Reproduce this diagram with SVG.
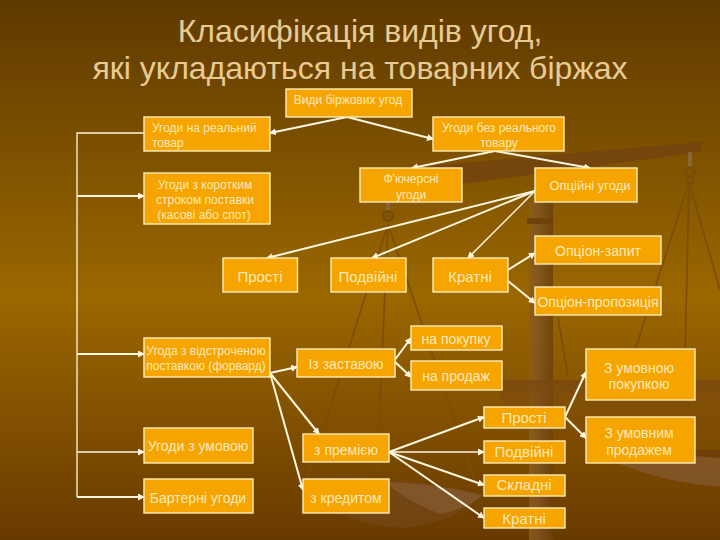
<svg xmlns="http://www.w3.org/2000/svg" width="720" height="540" viewBox="0 0 720 540">
<style>
.n{fill:#f5a400;stroke:#ffedb8;stroke-width:1.4}
.t{font-family:"Liberation Sans",Arial,sans-serif;fill:#ffe9bb;text-anchor:middle;font-size:12px}
.s{text-anchor:start}
.o{font-size:13px}
.m{font-size:14px}
.b{font-size:15px}
.h{font-family:"Liberation Sans",Arial,sans-serif;fill:#e8cb94;text-anchor:middle;font-size:32px}
.c{stroke:#fff6e0;stroke-width:2;fill:none;marker-end:url(#a)}
.d{stroke:#fff6e0;stroke-width:1.5;fill:none;marker-end:url(#a)}
.c1{stroke:#fff6e0;stroke-width:1.3;fill:none}
.ch{stroke:#7a4d08;stroke-width:1.6;fill:none}
</style>
<defs>
<linearGradient id="bg" x1="0" y1="0" x2="0" y2="1">
<stop offset="0" stop-color="#5f3a00"/><stop offset="0.55" stop-color="#9a6700"/><stop offset="1" stop-color="#693a00"/>
</linearGradient>
<linearGradient id="p" x1="0" y1="0" x2="1" y2="0">
<stop offset="0" stop-color="#8c5d1e"/><stop offset="0.45" stop-color="#7e5320"/><stop offset="1" stop-color="#6a4008"/>
</linearGradient>
<linearGradient id="rp" x1="0" y1="0" x2="0" y2="1">
<stop offset="0" stop-color="#7a4810" stop-opacity=".85"/><stop offset="0.3" stop-color="#7a4810" stop-opacity=".35"/><stop offset="1" stop-color="#7a4810" stop-opacity="0"/>
</linearGradient>
<marker id="a" markerWidth="7" markerHeight="7" refX="6" refY="3.5" orient="auto" markerUnits="userSpaceOnUse"><path d="M0 0L7 3.5L0 7z" fill="#fff6e0"/></marker>
</defs>
<rect width="720" height="540" fill="url(#bg)"/>
<g id="scales">
<path d="M380 170L702 142L700 152L380 195z" fill="#74450c"/>
<rect x="529" y="202" width="24" height="338" fill="url(#p)" opacity=".85"/>
<rect x="527" y="218" width="26" height="6" fill="#6e4208"/>
<path d="M688 152H692V166H688z" fill="#8a6636"/>
<circle cx="690" cy="172" r="4.5" fill="none" stroke="#7a4c0a" stroke-width="2"/>
<circle cx="690" cy="180" r="3.5" fill="none" stroke="#7a4c0a" stroke-width="2"/>
<path d="M386 202H390V211H386z" fill="#8a6636"/>
<circle cx="388" cy="216" r="5" fill="#7f540a" stroke="#754808" stroke-width="2"/>
<path class="ch" d="M388 224L305 487M388 224L377 470M388 224L475 480"/>
<path class="ch" d="M689 182L632 360M689 182L685 360M689 182L720 290M558 317L568 377"/>
<path d="M500 380H720V455Q640 470 586 465Q540 440 500 400z" fill="url(#rp)"/>
<path d="M695 450H720V458H695z" fill="#6e3f04"/>
<path d="M610 460Q670 452 720 458V487Q660 482 610 460z" fill="#82582c" opacity=".8"/>
<path d="M300 478Q390 472 482 495Q460 520 405 528Q330 525 300 478z" fill="#74481a" opacity=".7"/>
<path d="M385 482Q440 484 482 495Q470 508 440 514Q405 500 385 482z" fill="#835a2e" opacity=".8"/>
</g>
<text class="h" x="360" y="42">Класифікація видів угод,</text>
<text class="h" x="360" y="79">які укладаються на товарних біржах</text>
<g id="connectors">
<path class="c1" d="M144 133H77V497"/>
<path class="c" d="M77 196H144"/><path class="c" d="M77 354H144"/><path class="d" d="M77 452H144"/><path class="c" d="M77 497H144"/>
<path class="c" d="M347 117L270 133"/><path class="c" d="M347 117L433 139"/>
<path class="c" d="M495 151L412 168"/><path class="c" d="M495 151L590 168"/>
<path class="c" d="M535 191L267 258"/><path class="c" d="M535 191L372 258"/><path class="d" d="M535 191L468 258"/>
<path class="c" d="M508 270L535 253"/><path class="c" d="M508 281L535 303"/>
<path class="c" d="M270 373L297 367"/><path class="c" d="M270 373L319 434"/><path class="c" d="M270 373L303 490"/>
<path class="c" d="M394 361L411 338"/><path class="c" d="M394 361L411 377"/>
<path class="c" d="M389 452L484 417"/><path class="d" d="M389 452L484 452"/><path class="c" d="M389 452L484 485"/><path class="c" d="M389 452L484 518"/>
<path class="c" d="M565 417L586 372"/><path class="c" d="M565 417L586 438"/>
</g>
<g id="n1"><rect class="n" x="286" y="89" width="126" height="28"/><text class="t" x="348" y="104">Види біржових угод</text></g>
<g id="n2"><rect class="n" x="144" y="117" width="126" height="34"/><text class="t s" x="152" y="132">Угоди на реальний</text><text class="t s" x="152" y="147">товар</text></g>
<g id="n3"><rect class="n" x="433" y="117" width="131" height="34"/><text class="t" x="499" y="132">Угоди без реального</text><text class="t" x="499" y="147">товару</text></g>
<g id="n4"><rect class="n" x="144" y="173" width="126" height="51"/><text class="t" x="205" y="189">Угоди з коротким</text><text class="t" x="205" y="204">строком поставки</text><text class="t" x="204" y="219">(касові або спот)</text></g>
<g id="n5"><rect class="n" x="360" y="168" width="102" height="34"/><text class="t" x="411" y="183">Ф'ючерсні</text><text class="t" x="411" y="199">угоди</text></g>
<g id="n6"><rect class="n" x="535" y="168" width="102" height="34"/><text class="t o" x="590" y="190">Опційні угоди</text></g>
<g id="n7"><rect class="n" x="535" y="236" width="126" height="28"/><text class="t m" x="598" y="256">Опціон-запит</text></g>
<g id="n8"><rect class="n" x="223" y="258" width="74.5" height="34"/><text class="t b" x="260" y="282">Прості</text></g>
<g id="n9"><rect class="n" x="331" y="258" width="75" height="34"/><text class="t b" x="368" y="282">Подвійні</text></g>
<g id="n10"><rect class="n" x="433" y="258" width="75" height="34"/><text class="t b" x="470" y="282">Кратні</text></g>
<g id="n11"><rect class="n" x="535" y="287" width="126" height="28"/><text class="t m" x="598" y="307">Опціон-пропозиція</text></g>
<g id="n12"><rect class="n" x="144" y="338" width="126" height="39"/><text class="t" x="206" y="355">Угода з відстроченою</text><text class="t" x="206" y="370">поставкою (форвард)</text></g>
<g id="n13"><rect class="n" x="297" y="349" width="98" height="28"/><text class="t m" x="346" y="369">Із заставою</text></g>
<g id="n14"><rect class="n" x="411" y="326" width="91" height="24"/><text class="t m" x="456" y="344">на покупку</text></g>
<g id="n15"><rect class="n" x="411" y="361" width="91" height="29"/><text class="t m" x="456" y="381">на продаж</text></g>
<g id="n16"><rect class="n" x="586" y="349" width="109" height="51"/><text class="t m" x="639" y="373">З умовною</text><text class="t m" x="639" y="389">покупкою</text></g>
<g id="n17"><rect class="n" x="484" y="407" width="81" height="21"/><text class="t b" x="524" y="423">Прості</text></g>
<g id="n18"><rect class="n" x="586" y="417" width="109" height="46"/><text class="t m" x="639" y="438">З умовним</text><text class="t m" x="639" y="455">продажем</text></g>
<g id="n19"><rect class="n" x="144" y="428" width="109" height="35"/><text class="t m" x="198" y="451">Угоди з умовою</text></g>
<g id="n20"><rect class="n" x="303" y="434" width="86" height="28"/><text class="t m" x="346" y="455">з премією</text></g>
<g id="n21"><rect class="n" x="484" y="441" width="81" height="22"/><text class="t b" x="524" y="457">Подвійні</text></g>
<g id="n22"><rect class="n" x="484" y="475" width="81" height="21"/><text class="t b" x="524" y="490">Складні</text></g>
<g id="n23"><rect class="n" x="144" y="479" width="109" height="34"/><text class="t m" x="198" y="503">Бартерні угоди</text></g>
<g id="n24"><rect class="n" x="303" y="479" width="86" height="34"/><text class="t m" x="346" y="503">з кредитом</text></g>
<g id="n25"><rect class="n" x="484" y="508" width="81" height="20"/><text class="t b" x="524" y="524">Кратні</text></g>
</svg>
